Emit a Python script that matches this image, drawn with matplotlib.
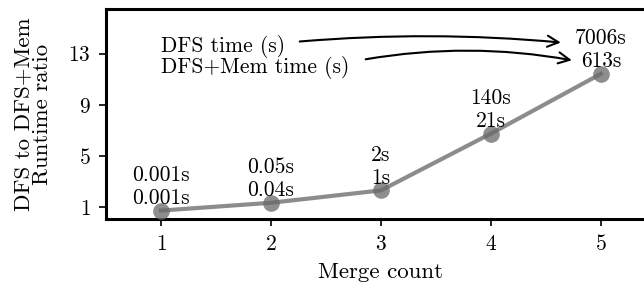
import matplotlib
matplotlib.use("Agg")
import matplotlib.pyplot as plt

plt.rcParams["font.family"] = "cmr10"
plt.rcParams["axes.formatter.use_mathtext"] = True
plt.rcParams["font.size"] = 15.5

# data
merge_count = [1, 2, 3, 4, 5]
ratio = [0.72, 1.33, 2.3, 6.75, 11.43]
dfs_time = ["0.001s", "0.05s", "2s", "140s", "7006s"]
mem_time = ["0.001s", "0.04s", "1s", "21s", "613s"]
yticks = [1, 5, 9, 13]

fig = plt.figure(figsize=(6.44, 2.88), dpi=100)
ax = fig.add_axes([0.1646, 0.2396, 0.854, 0.729])

ax.plot(merge_count, ratio, color="gray", lw=3, alpha=0.9, zorder=2)
ax.plot(merge_count, ratio, "o", color="dimgray", ms=12, alpha=0.75,
        mec="none", zorder=3)

for x, y, a, b in zip(merge_count, ratio, dfs_time, mem_time):
    ax.annotate(a + "\n" + b, (x, y), xytext=(0, 2), textcoords="offset points",
                ha="center", va="bottom", linespacing=1.2, zorder=4)

# arrows from the legend-like labels to the last point's labels
ax.text(1.0, 13.55, "DFS time (s)", va="center", ha="left")
ax.text(1.0, 11.9, "DFS+Mem time (s)", va="center", ha="left")
ax.annotate("", xy=(4.66, 13.86), xytext=(2.236, 13.94),
            arrowprops=dict(arrowstyle="->", lw=1.5, color="black",
                            connectionstyle="arc3,rad=-0.045", mutation_scale=20))
ax.annotate("", xy=(4.76, 12.45), xytext=(2.836, 12.53),
            arrowprops=dict(arrowstyle="->", lw=1.5, color="black",
                            connectionstyle="arc3,rad=-0.09", mutation_scale=20))

ax.set_xlim(0.5, 5.5)
ax.set_ylim(0.06, 16.5)
ax.set_xticks(merge_count)
ax.set_yticks(yticks)
ax.set_xlabel("Merge count", fontsize=16.5, labelpad=6)
ax.set_ylabel("DFS to DFS+Mem\nRuntime ratio", fontsize=16.5,
              linespacing=0.95, labelpad=12)

for s in ax.spines.values():
    s.set_linewidth(2.2)
ax.tick_params(width=1.2, length=5, pad=6)

fig.savefig("out.png", dpi=100)
